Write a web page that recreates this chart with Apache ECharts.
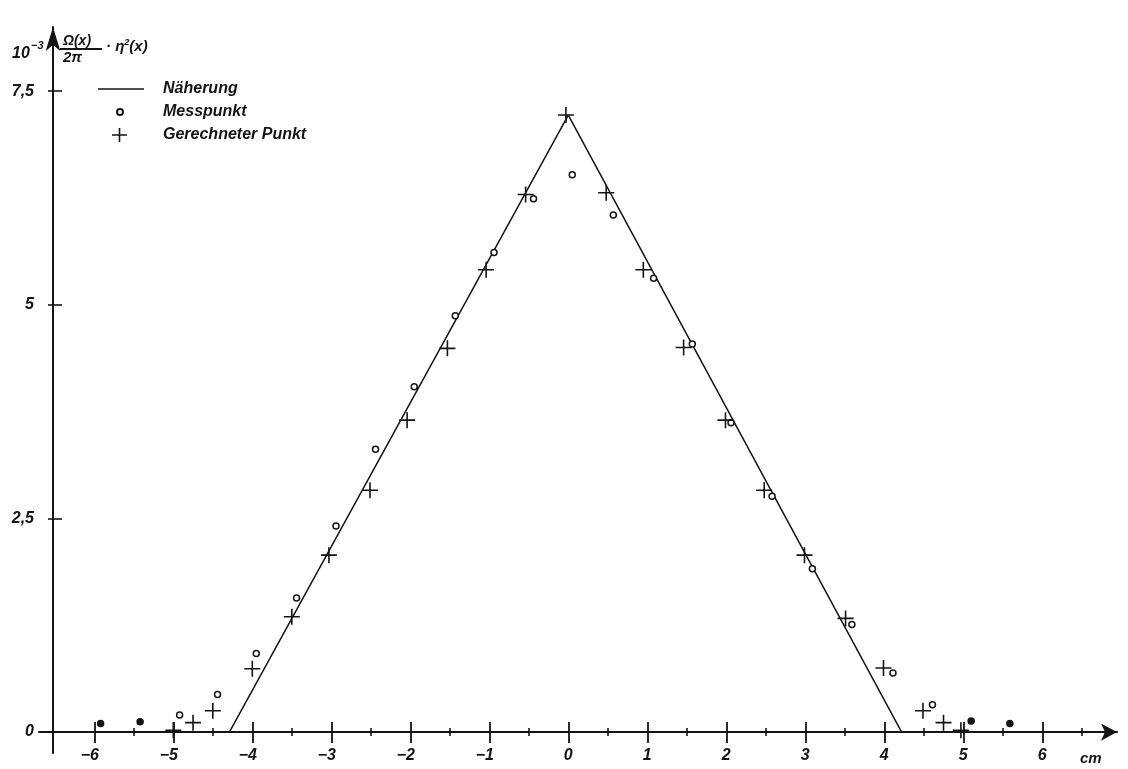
<!DOCTYPE html>
<html><head><meta charset="utf-8">
<script src="https://cdn.jsdelivr.net/npm/echarts@6/dist/echarts.min.js"></script>
<style>html,body{margin:0;padding:0;background:#fff}#c{width:1128px;height:769px}</style>
</head><body><div id="c"></div>
<script>
// ---- data ----
const xTickValues = [-6, -5, -4, -3, -2, -1, 0, 1, 2, 3, 4, 5, 6];
const xMinorTickValues = [-5.5, -4.5, -3.5, -2.5, -1.5, -0.5, 0.5, 1.5, 2.5, 3.5, 4.5, 5.5, 6.5];
const yTickValues = [0, 2.5, 5, 7.5];
const yTickLabels = ['0', '2,5', '5', '7,5'];
const legendNames = ['Näherung', 'Messpunkt', 'Gerechneter Punkt'];

// Näherung (approximation, solid line)
const naeherung = [[-4.29, 0], [0, 7.22], [4.22, 0]];

// Messpunkt (measured points, small circles)
const messpunkt = [
  [-5.92, 0.10], [-5.42, 0.12], [-4.92, 0.20], [-4.44, 0.44], [-3.95, 0.92],
  [-3.44, 1.57], [-2.94, 2.41], [-2.44, 3.31], [-1.95, 4.04], [-1.43, 4.87],
  [-0.94, 5.61], [-0.44, 6.24], [0.05, 6.52], [0.57, 6.05], [1.08, 5.31],
  [1.57, 4.54], [2.06, 3.62], [2.58, 2.76], [3.09, 1.91], [3.59, 1.26],
  [4.11, 0.69], [4.61, 0.32], [5.10, 0.13], [5.59, 0.10]
];

// Gerechneter Punkt (computed points, crosses)
const gerechnet = [
  [-5.0, 0.02], [-4.75, 0.11], [-4.5, 0.25], [-4.0, 0.74], [-3.5, 1.35], [-3.03, 2.07],
  [-2.51, 2.83], [-2.04, 3.65], [-1.53, 4.49], [-1.04, 5.41], [-0.54, 6.29],
  [-0.03, 7.22], [0.48, 6.31], [0.95, 5.41], [1.46, 4.50], [1.99, 3.65],
  [2.48, 2.83], [2.99, 2.07], [3.51, 1.33], [3.99, 0.75], [4.49, 0.25],
  [4.75, 0.11], [4.97, 0.02]
];

// ---- chart ----
const FF = '"Liberation Sans", Arial, sans-serif';
const INK = '#141414';
const txt = (size) => ({ fontFamily: FF, fontStyle: 'italic', fontWeight: 'bold', fontSize: size, color: INK });
const plusPath = 'path://M0,7.2H16V8.8H0Z M7.2,0H8.8V16H7.2Z';

const X_MIN = -6.7, X_MAX = 6.946, Y_MIN = -0.245, Y_MAX = 8.25;

function xAxisBase(extra) {
  return Object.assign({
    type: 'value', min: X_MIN, max: X_MAX, position: 'bottom',
    splitLine: { show: false },
    axisLine: { show: true, onZero: true, onZeroAxisIndex: 0, lineStyle: { color: 'rgba(0,0,0,0)', width: 0 } },
    axisLabel: { show: false }
  }, extra);
}

const chart = echarts.init(document.getElementById('c'), null, { renderer: 'canvas' });
chart.setOption({
  animation: false,
  backgroundColor: '#fff',
  grid: { left: 39, right: 11, top: 27, bottom: 16, containLabel: false, outerBoundsMode: 'none' },
  legend: {
    orient: 'vertical', left: 97, top: 81, padding: 0, itemWidth: 60, itemHeight: 14, itemGap: 7,
    selectedMode: false,
    textStyle: txt(16),
    data: [
      { name: legendNames[0], icon: 'path://M0,0M60,14M0,6.25H46V7.75H0Z' },
      { name: legendNames[1], icon: 'path://M0,0M60,14M19,7a3,3 0 1,0 6,0a3,3 0 1,0 -6,0Z' },
      { name: legendNames[2], icon: 'path://M0,0M60,14M14,6.2H29V7.8H14Z M20.7,0H22.3V14H20.7Z' }
    ]
  },
  xAxis: [
    xAxisBase({
      axisLine: { show: true, onZero: true, onZeroAxisIndex: 0, symbol: ['none', 'arrow'], symbolSize: [13, 16],
        lineStyle: { color: INK, width: 2 } },
      axisTick: { show: true, customValues: xTickValues, length: 11, inside: false,
        lineStyle: { color: INK, width: 1.8 } },
      axisLabel: {
        show: true, customValues: xTickValues, margin: -5,
        formatter: v => v < 0 ? '{n|\u2212' + (-v) + '}' : '{p|' + v + '}',
        rich: { n: Object.assign(txt(16), { padding: [0, 9, 0, 0] }), p: txt(16) }
      }
    }),
    xAxisBase({ axisTick: { show: true, customValues: xTickValues, length: 10, inside: true,
      lineStyle: { color: INK, width: 1.8 } } }),
    xAxisBase({ axisTick: { show: true, customValues: xMinorTickValues, length: 4, inside: false,
      lineStyle: { color: INK, width: 1.6 } } }),
    xAxisBase({ axisTick: { show: true, customValues: xMinorTickValues, length: 4, inside: true,
      lineStyle: { color: INK, width: 1.6 } } })
  ],
  yAxis: [
    {
      type: 'value', min: Y_MIN, max: Y_MAX, position: 'left', offset: -14,
      splitLine: { show: false },
      axisLine: { show: true, onZero: false, symbol: ['none', 'arrow'], symbolSize: [11, 24],
        lineStyle: { color: INK, width: 2 } },
      axisTick: { show: true, customValues: yTickValues, length: 9, inside: true,
        lineStyle: { color: INK, width: 1.6 } },
      axisLabel: { show: true, customValues: yTickValues, margin: 19,
        formatter: v => yTickLabels[yTickValues.indexOf(v)] ?? '', ...txt(16) }
    },
    {
      type: 'value', min: Y_MIN, max: Y_MAX, position: 'left', offset: -14,
      splitLine: { show: false },
      axisLine: { show: false, onZero: false },
      axisTick: { show: true, customValues: yTickValues, length: 5, inside: false,
        lineStyle: { color: INK, width: 1.6 } },
      axisLabel: { show: false }
    }
  ],
  series: [
    {
      name: legendNames[0], type: 'line', data: naeherung, symbol: 'none',
      xAxisIndex: 0, yAxisIndex: 0,
      lineStyle: { color: INK, width: 1.5 }, itemStyle: { color: INK }, z: 3
    },
    {
      name: legendNames[1], type: 'scatter', xAxisIndex: 0, yAxisIndex: 0,
      data: messpunkt.map(p => Math.abs(p[0]) > 5 ? { value: p, itemStyle: { color: INK } } : p),
      symbol: 'circle', symbolSize: 6,
      itemStyle: { color: '#fff', borderColor: INK, borderWidth: 1.5, opacity: 1 }, z: 4
    },
    {
      name: legendNames[2], type: 'scatter', xAxisIndex: 0, yAxisIndex: 0,
      data: gerechnet, symbol: plusPath, symbolSize: 16,
      itemStyle: { color: INK, borderWidth: 0, opacity: 1 }, z: 5
    }
  ],
  graphic: [
    { type: 'text', left: 12, top: 46, style: { text: '10', font: 'italic bold 16px ' + FF, fill: INK } },
    { type: 'text', left: 31, top: 40, style: { text: '\u22123', font: 'italic bold 11px ' + FF, fill: INK } },
    { type: 'text', left: 63, top: 34, style: { text: '\u03A9(x)', font: 'italic bold 14px ' + FF, fill: INK } },
    { type: 'line', shape: { x1: 60, y1: 49, x2: 102, y2: 49 }, style: { stroke: INK, lineWidth: 1.8 } },
    { type: 'text', left: 63, top: 50, style: { text: '2\u03C0', font: 'italic bold 15px ' + FF, fill: INK } },
    { type: 'text', left: 106, top: 38, style: {
        text: '\u00B7 \u03B7{s|2}(x)', font: 'italic bold 15px ' + FF, fill: INK,
        rich: { s: { fontFamily: FF, fontStyle: 'italic', fontWeight: 'bold', fontSize: 9, verticalAlign: 'top', padding: [0, 0, 8, 0] } }
    } },
    { type: 'text', left: 1080, top: 751, style: { text: 'cm', font: 'italic bold 15px ' + FF, fill: INK } }
  ]
});
</script>
</body></html>
